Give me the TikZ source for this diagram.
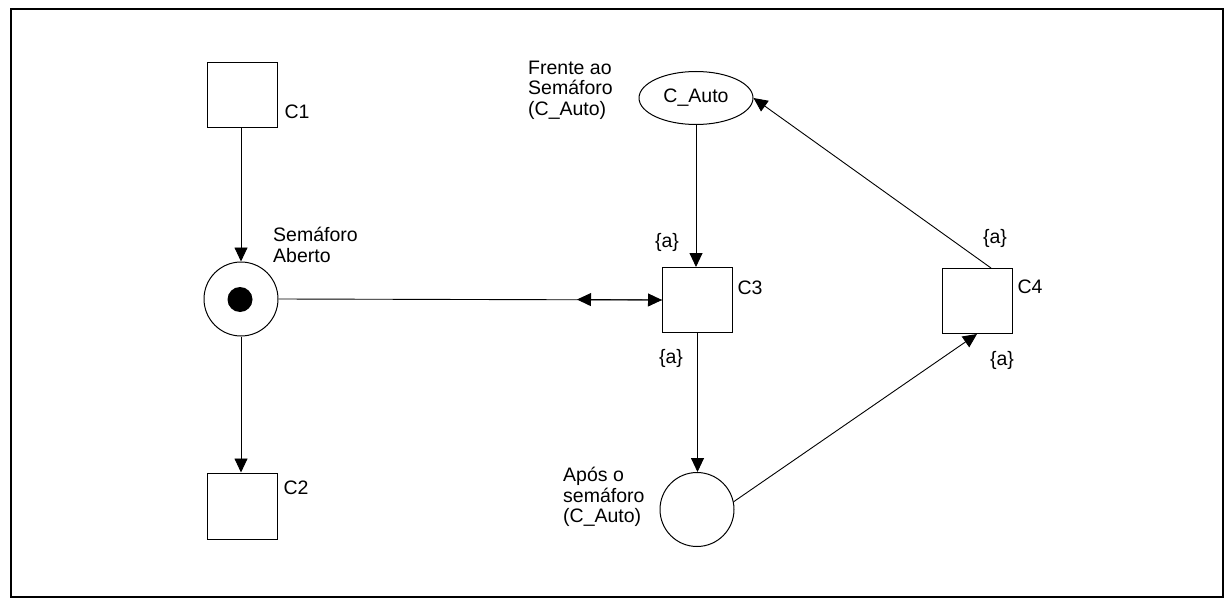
\documentclass[tikz,border=0pt]{standalone}
\usepackage{fontspec}
\setmainfont{Liberation Sans}
\usetikzlibrary{arrows.meta,calc,shapes.geometric}
\begin{document}
\begin{tikzpicture}[x=1pt,y=-1pt,
  every node/.style={font=\fontsize{19.5}{20.5}\selectfont, inner sep=0pt},
  trans/.style={draw, line width=1pt, minimum width=70pt, minimum height=65pt},
  place/.style={draw, circle, line width=1pt, minimum size=74pt},
  arc/.style={line width=0.9pt, -{Triangle[length=14pt,width=13pt]}},
  lbl/.style={align=left, anchor=west}]
\useasboundingbox (0,0) rectangle (1226,607);
\draw[line width=2.2pt] (11,9) rectangle (1223,597);
% left column
\node[trans] (C1) at (242.5,95) {};
\node (lC1) at (297,112) {C1};
\node[place] (SA) at (241,299) {};
\node[circle, fill, minimum size=25pt] (tok) at (240,299.5) {};
\node[lbl] (lSA) at (273,245) {Semáforo\\Aberto};
\node[trans, minimum height=66pt] (C2) at (242.5,506) {};
\node (lC2) at (296,488) {C2};
% middle column
\node[ellipse, draw, line width=1pt, minimum width=114pt, minimum height=53pt] (CA) at (696,98) {C\_Auto};
\node[lbl] (lCA) at (528,90) {Frente ao\\Semáforo\\(C\_Auto)};
\node[trans] (C3) at (697.5,300) {};
\node (lC3) at (750,288) {C3};
\node[place] (AP) at (697,509.5) {};
\node[lbl] (lAP) at (563,497) {Após o\\semáforo\\(C\_Auto)};
% right
\node[trans] (C4) at (977,301) {};
\node (lC4) at (1030,287) {C4};
% inscriptions
\node (a1) at (667,242) {\{a\}};
\node (a2) at (671,358) {\{a\}};
\node (a3) at (995,238) {\{a\}};
\node (a4) at (1002,360) {\{a\}};
% arcs
\draw[arc] (C1.south -| SA) -- (SA.north);
\draw[arc] (SA.south) -- (SA.south |- C2.north);
\draw[arc] (CA.south) -- (CA.south |- C3.north);
\draw[arc] (C3.south) -- (C3.south |- AP.north);
\draw[arc] (SA.east) -- (C3.west);
\coordinate (m) at (577,299.5);
\draw[arc] (C3.west) -- (m);
\draw[arc] ($(C4.north)+(14,0)$) -- (CA.east);
\draw[arc] (AP.12) -- (C4.south);
\end{tikzpicture}
\end{document}
